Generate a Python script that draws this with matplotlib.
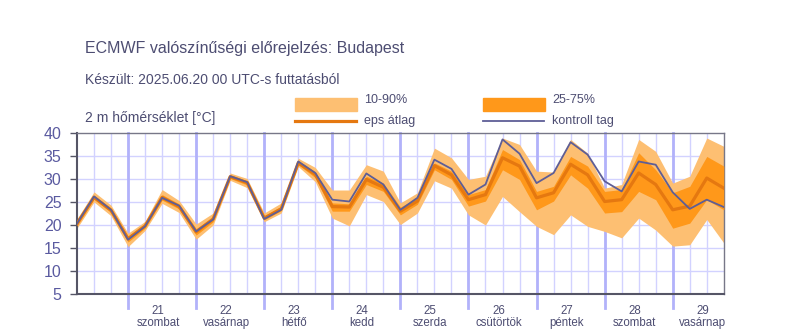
import numpy as np
import pandas as pd
import matplotlib
matplotlib.use("Agg")
import matplotlib.pyplot as plt
import matplotlib.dates as mdates

plt.rcParams['font.family'] = ['Liberation Sans', 'DejaVu Sans']

# 6-hourly steps from 2025-06-20 06 UTC
times = pd.date_range("2025-06-20 06:00", periods=39, freq="6h")

ctrl = [20.3, 26.2, 23.3, 16.8, 19.7, 25.9, 24.2, 18.6, 21.2, 30.6,
        29.3, 21.3, 23.3, 33.8, 31.3, 25.5, 25.1, 31.2, 28.8, 23.3,
        25.9, 34.2, 32.2, 26.6, 28.8, 38.6, 35.5, 29.1, 31.3, 38.0,
        35.3, 29.5, 27.3, 33.8, 33.1, 27.1, 23.5, 25.5, 23.9]
mean = [20.3, 26.0, 23.2, 17.0, 19.8, 26.0, 24.0, 18.5, 21.3, 30.5,
        29.2, 21.5, 23.5, 33.5, 31.0, 24.0, 23.9, 29.9, 28.2, 23.0,
        25.2, 32.9, 30.9, 25.5, 26.6, 34.6, 32.8, 25.9, 27.0, 33.2,
        30.9, 25.1, 25.5, 31.3, 28.8, 23.3, 24.1, 30.2, 28.0]
p10 = [19.3, 25.0, 22.0, 15.3, 18.8, 24.7, 22.7, 16.9, 20.0, 29.7,
       28.1, 20.7, 22.6, 32.7, 29.4, 21.5, 19.8, 26.6, 25.1, 20.1,
       22.6, 29.6, 28.0, 22.2, 20.0, 26.2, 22.9, 19.7, 17.9, 22.2,
       19.7, 18.6, 17.2, 21.5, 18.9, 15.4, 15.7, 21.2, 16.1]
p25 = [19.8, 25.6, 22.7, 16.3, 19.3, 25.4, 23.5, 17.8, 20.7, 30.1,
       28.7, 21.1, 23.1, 33.1, 30.3, 23.0, 23.0, 28.8, 27.3, 22.2,
       24.5, 32.0, 29.9, 24.1, 25.2, 32.0, 29.9, 23.3, 25.2, 30.9,
       28.0, 22.6, 22.9, 27.3, 25.5, 19.3, 20.4, 25.5, 23.3]
p75 = [20.8, 26.5, 23.7, 17.6, 20.2, 26.6, 24.6, 19.2, 21.8, 30.9,
       29.6, 22.0, 24.1, 34.0, 31.6, 24.8, 24.6, 30.6, 29.1, 23.9,
       25.9, 33.5, 31.7, 26.6, 27.7, 36.4, 34.2, 27.3, 28.4, 34.9,
       32.8, 27.3, 27.7, 35.7, 32.0, 27.0, 28.4, 34.9, 32.8]
p90 = [21.3, 27.2, 24.3, 18.2, 20.8, 27.7, 25.3, 20.2, 22.6, 31.3,
       30.1, 22.6, 24.8, 34.5, 32.5, 27.6, 27.6, 33.1, 31.7, 24.8,
       27.0, 36.7, 34.6, 29.9, 30.6, 38.9, 37.5, 31.7, 31.5, 38.6,
       35.6, 28.0, 28.8, 38.6, 36.0, 29.1, 30.6, 38.9, 37.1]

day_nums = ['21', '22', '23', '24', '25', '26', '27', '28', '29']
day_names = ['szombat', 'vasárnap', 'hétfő', 'kedd', 'szerda',
             'csütörtök', 'péntek', 'szombat', 'vasárnap']

txt = '#4d4d72'
tick_c = '#5a5aa0'
c_light = '#fdbf72'
c_dark = '#ff981a'
c_mean = '#e57810'
c_ctrl = '#5e5e96'

fig = plt.figure(figsize=(8.06, 3.32), dpi=100)
ax = fig.add_axes([0.0955, 0.1145, 0.8025, 0.485])

x = mdates.date2num(times)
ax.fill_between(x, p10, p90, color=c_light, lw=0, zorder=2)
ax.fill_between(x, p25, p75, color=c_dark, lw=0, zorder=3)
ax.plot(x, mean, color=c_mean, lw=2.3, zorder=4)
ax.plot(x, ctrl, color=c_ctrl, lw=1.3, zorder=5)

ax.set_xlim(x[0], x[-1])
ax.set_ylim(5, 40)
ax.set_yticks(range(5, 41, 5))
ax.tick_params(axis='y', labelsize=11.5, labelcolor=tick_c, color='#555566',
               length=5, width=1, pad=6)

# grid
for v in range(10, 40, 5):
    ax.axhline(v, color='#d2d2ff', lw=1, zorder=1)
for xv in x[1:-1]:
    ax.axvline(xv, color='#d2d2ff', lw=1, zorder=1)
days = pd.date_range("2025-06-21", periods=9, freq="D")
for d in mdates.date2num(days):
    ax.axvline(d, ymin=-0.085, ymax=1, color='#b2b2fa', lw=2, zorder=1, clip_on=False)

ax.set_xticks([])
for d, n, w in zip(mdates.date2num(days), day_nums, day_names):
    ax.annotate(n, (d + 0.44, 5), xytext=(0, -8), textcoords='offset points',
                ha='center', va='top', fontsize=8.3, color=txt)
    ax.annotate(w, (d + 0.44, 5), xytext=(0, -16.5), textcoords='offset points',
                ha='center', va='top', fontsize=8.3, color=txt)

for s in ['left', 'bottom']:
    ax.spines[s].set_color('#555566')
    ax.spines[s].set_linewidth(1.5)
for s in ['top', 'right']:
    ax.spines[s].set_color('#777788')
    ax.spines[s].set_linewidth(1)

# titles
fig.text(85 / 806, 1 - 49 / 332, 'ECMWF valószínűségi előrejelzés: Budapest',
         fontsize=11.5, color=txt, va='center')
fig.text(85 / 806, 1 - 80 / 332, 'Készült: 2025.06.20 00 UTC-s futtatásból',
         fontsize=10, color=txt, va='center')
fig.text(85 / 806, 1 - 118 / 332, '2 m hőmérséklet [°C]',
         fontsize=10, color=txt, va='center')

# legend
def patch(x0, y0, color):
    fig.patches.append(plt.Rectangle((x0 / 806, 1 - (y0 + 13) / 332), 62 / 806, 13 / 332,
                                     transform=fig.transFigure, color=color))

def line(x0, y0, color, lw):
    fig.lines.append(plt.Line2D([x0 / 806, (x0 + 61) / 806], [1 - y0 / 332] * 2,
                                transform=fig.transFigure, color=color, lw=lw))

patch(295, 98, c_light)
patch(483, 98, c_dark)
line(295, 121, c_mean, 2.3)
line(483, 121, c_ctrl, 1.3)
fig.text(364 / 806, 1 - 100 / 332, '10-90%', fontsize=9, color=txt, va='center')
fig.text(552 / 806, 1 - 100 / 332, '25-75%', fontsize=9, color=txt, va='center')
fig.text(364 / 806, 1 - 121 / 332, 'eps átlag', fontsize=9, color=txt, va='center')
fig.text(552 / 806, 1 - 121 / 332, 'kontroll tag', fontsize=9, color=txt, va='center')

fig.savefig('out.png', dpi=100)
